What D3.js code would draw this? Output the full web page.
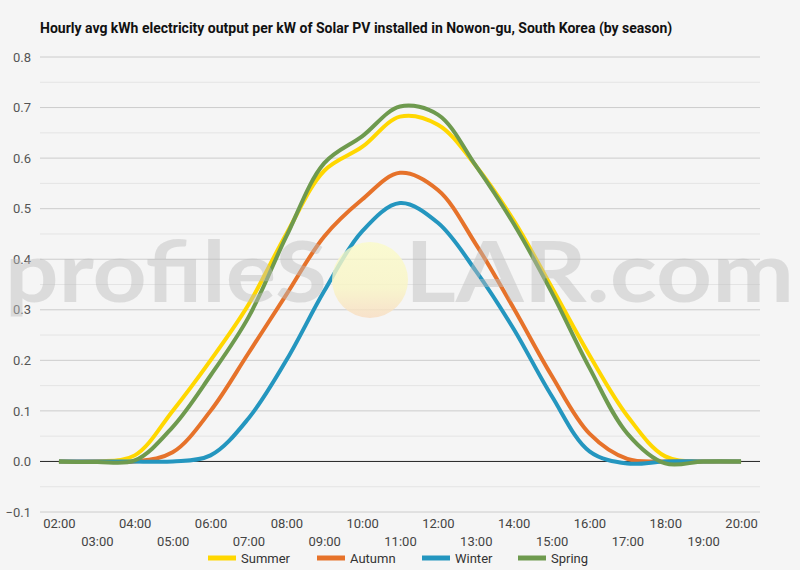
<!DOCTYPE html>
<html>
<head>
<meta charset="utf-8">
<script src="https://cdn.jsdelivr.net/npm/d3@7"></script>
<style>
  html, body { margin: 0; padding: 0; background: #f5f5f5; }
  svg { display: block; font-family: Roboto, "Noto Sans", sans-serif; }
</style>
</head>
<body>
<svg id="chart" width="800" height="570"></svg>
<script>
const title = "Hourly avg kWh electricity output per kW of Solar PV installed in Nowon-gu, South Korea (by season)";
const hours = ["02:00","03:00","04:00","05:00","06:00","07:00","08:00","09:00","10:00","11:00","12:00","13:00","14:00","15:00","16:00","17:00","18:00","19:00","20:00"];
const seriesNames = ["Summer","Autumn","Winter","Spring"];
const seriesColors = ["#FFD700","#E6722A","#2496BF","#6E9A4E"];
const summer = [0, 0, 0.012, 0.100, 0.200, 0.310, 0.450, 0.575, 0.622, 0.682, 0.666, 0.585, 0.477, 0.345, 0.210, 0.090, 0.010, 0, 0];
const autumn = [0, 0, 0, 0.018, 0.100, 0.214, 0.330, 0.445, 0.518, 0.571, 0.537, 0.430, 0.303, 0.170, 0.055, 0.005, 0, 0, 0];
const winter = [0, 0, 0, 0, 0.012, 0.085, 0.200, 0.337, 0.455, 0.511, 0.472, 0.377, 0.262, 0.130, 0.020, -0.004, 0, 0, 0];
const spring = [0, -0.001, 0.002, 0.068, 0.170, 0.285, 0.445, 0.590, 0.643, 0.702, 0.686, 0.585, 0.470, 0.335, 0.185, 0.055, -0.004, 0, 0];
const seriesValues = [summer, autumn, winter, spring];
const yTicks = [-0.1, 0, 0.1, 0.2, 0.3, 0.4, 0.5, 0.6, 0.7, 0.8];
const yMinorTicks = [-0.05, 0.05, 0.15, 0.25, 0.35, 0.45, 0.55, 0.65, 0.75];

const svg = d3.select("#chart");
const W = 800, H = 570;
const plot = {left: 40, right: 760, top: 57, bottom: 512};

svg.append("rect").attr("width", W).attr("height", H).attr("fill", "#f5f5f5");

svg.append("text")
  .attr("x", 40).attr("y", 33)
  .attr("font-size", 14).attr("font-weight", "bold").attr("fill", "#111")
  .text(title);

const x = d3.scalePoint().domain(hours).range([plot.left, plot.right]).padding(0.5);
const y = d3.scaleLinear().domain([-0.1, 0.8]).range([plot.bottom, plot.top]);

// gridlines
svg.append("g").selectAll("line").data(yMinorTicks).join("line")
  .attr("x1", plot.left).attr("x2", plot.right)
  .attr("y1", d => y(d)).attr("y2", d => y(d))
  .attr("stroke", "#e4e4e4").attr("stroke-width", 1);
svg.append("g").selectAll("line").data(yTicks.filter(d => d !== 0)).join("line")
  .attr("x1", plot.left).attr("x2", plot.right)
  .attr("y1", d => y(d)).attr("y2", d => y(d))
  .attr("stroke", "#cccccc").attr("stroke-width", 1);

// y axis labels
const yAxis = d3.axisLeft(y).tickValues(yTicks).tickFormat(d3.format(".1f")).tickSize(0).tickPadding(9);
const gy = svg.append("g").attr("transform", `translate(${plot.left},0)`).call(yAxis);
gy.select(".domain").remove();
gy.selectAll("text").attr("font-size", 13).attr("fill", "#555").attr("font-family", "Roboto, sans-serif");

// x axis labels (alternating rows)
const xAxis = d3.axisBottom(x).tickSize(0).tickPadding(0);
const gx = svg.append("g").attr("transform", `translate(0,${plot.bottom})`).call(xAxis);
gx.select(".domain").remove();
gx.selectAll("text")
  .attr("font-size", 13).attr("fill", "#444").attr("font-family", "Roboto, sans-serif")
  .attr("dy", null)
  .attr("y", (d, i) => i % 2 === 0 ? 16 : 34);

// zero line
svg.append("line")
  .attr("x1", plot.left).attr("x2", plot.right)
  .attr("y1", y(0)).attr("y2", y(0))
  .attr("stroke", "#222").attr("stroke-width", 1);

// series lines
const line = d3.line()
  .x((d, i) => x(hours[i]))
  .y(d => y(d))
  .curve(d3.curveCatmullRom.alpha(0.5));

const order = [0, 1, 2, 3];
svg.append("g").selectAll("path").data(order).join("path")
  .attr("d", i => line(seriesValues[i]))
  .attr("fill", "none")
  .attr("stroke", i => seriesColors[i])
  .attr("stroke-width", 4)
  .attr("stroke-linejoin", "round")
  .attr("stroke-linecap", "butt");

// watermark
const defs = svg.append("defs");
const grad = defs.append("linearGradient").attr("id", "sun").attr("x1", 0).attr("y1", 0).attr("x2", 0).attr("y2", 1);
grad.append("stop").attr("offset", "0%").attr("stop-color", "#fbfbc8");
grad.append("stop").attr("offset", "60%").attr("stop-color", "#f9f5c4");
grad.append("stop").attr("offset", "100%").attr("stop-color", "#f8dcc0");
const wm = svg.append("g").attr("pointer-events", "none");
wm.append("text")
  .attr("x", 5).attr("y", 302)
  .attr("textLength", 322).attr("lengthAdjust", "spacingAndGlyphs")
  .attr("font-size", 84).attr("font-weight", "bold").attr("font-family", "Lato, 'Open Sans', sans-serif")
  .attr("fill", "#bdbdbd").attr("fill-opacity", 0.45)
  .text("profileS");
wm.append("circle").attr("cx", 370).attr("cy", 280).attr("r", 38)
  .attr("fill", "url(#sun)").attr("fill-opacity", 0.8);
wm.append("text")
  .attr("x", 405).attr("y", 302)
  .attr("textLength", 389).attr("lengthAdjust", "spacingAndGlyphs")
  .attr("font-size", 84).attr("font-weight", "bold").attr("font-family", "Lato, 'Open Sans', sans-serif")
  .attr("fill", "#bdbdbd").attr("fill-opacity", 0.45)
  .text("LAR.com");

// legend
const legendX = [208, 317, 422, 518];
const lg = svg.append("g").selectAll("g").data(seriesNames).join("g")
  .attr("transform", (d, i) => `translate(${legendX[i]},558)`);
lg.append("line").attr("x1", 0).attr("x2", 28).attr("y1", 0).attr("y2", 0)
  .attr("stroke", (d, i) => seriesColors[i]).attr("stroke-width", 5);
lg.append("text").attr("x", 33).attr("y", 5)
  .attr("font-size", 13).attr("fill", "#333").attr("font-family", "Roboto, sans-serif")
  .text(d => d);
</script>
</body>
</html>
